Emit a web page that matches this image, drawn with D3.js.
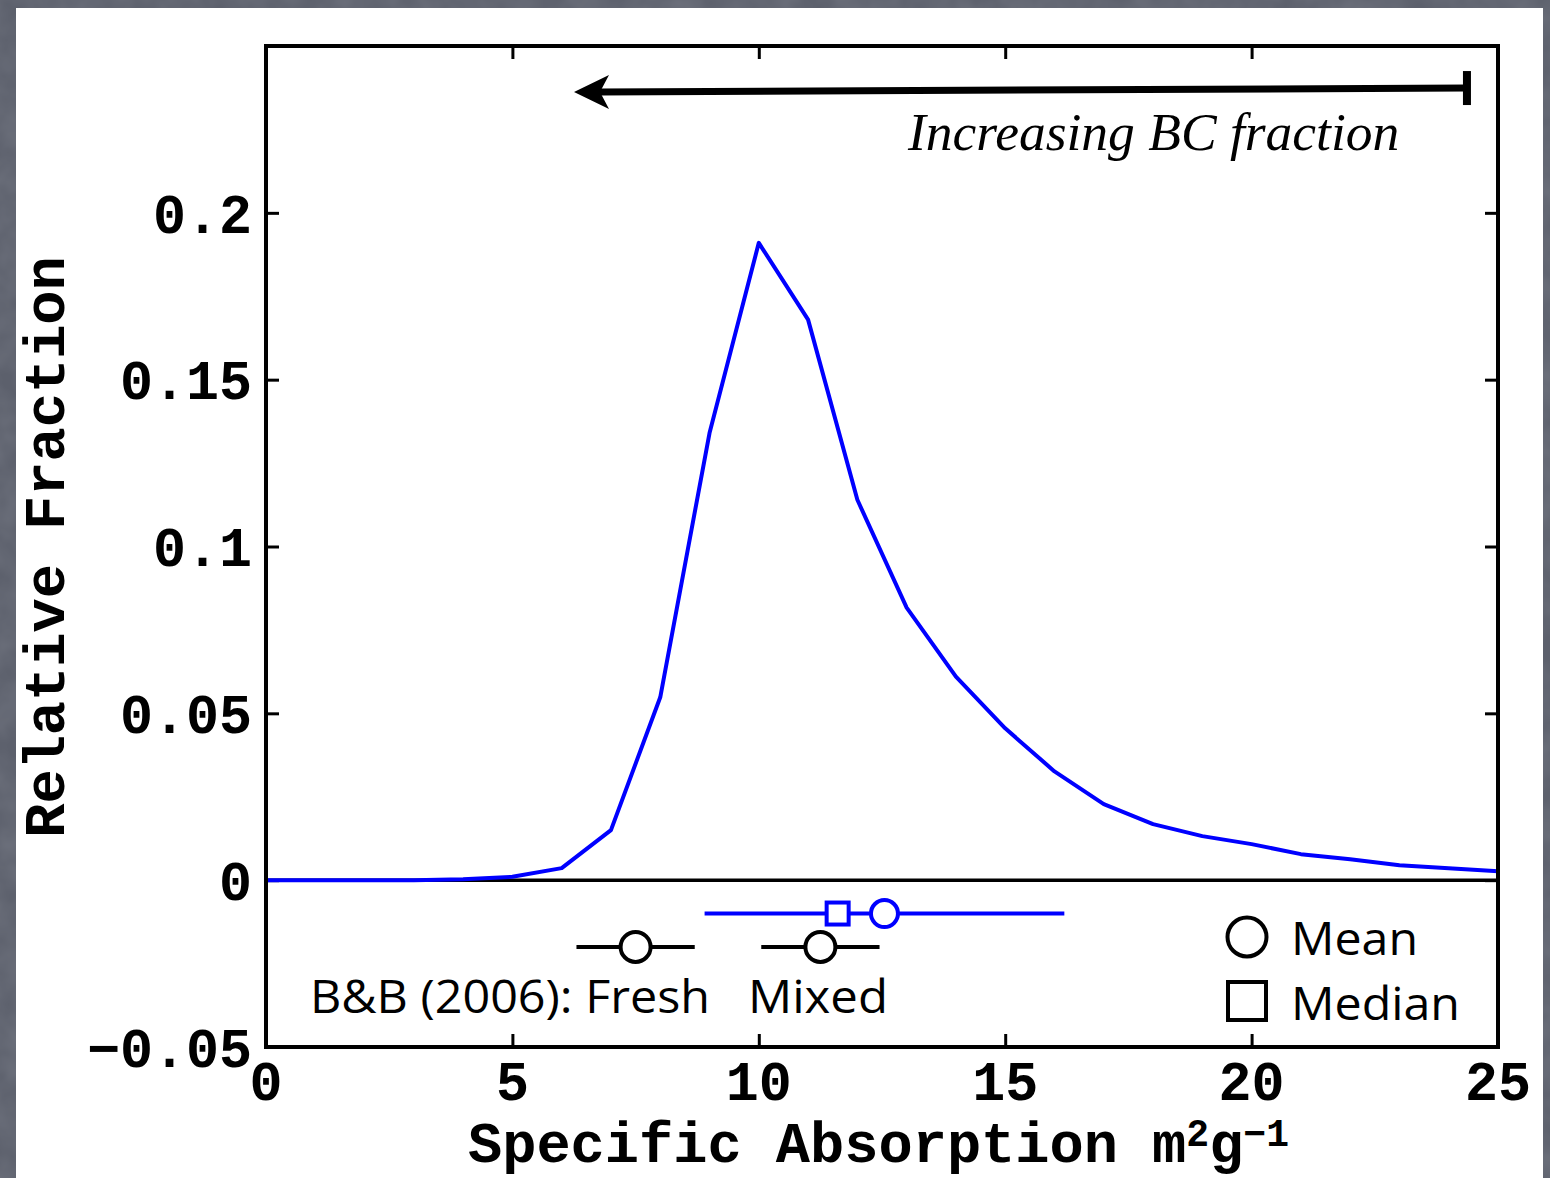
<!DOCTYPE html>
<html>
<head>
<meta charset="utf-8">
<script src="https://cdn.jsdelivr.net/npm/d3@7/dist/d3.min.js"></script>
<style>
  html, body { margin: 0; padding: 0; background: #5c606c; }
  svg { display: block; }
</style>
</head>
<body>
<svg id="chart" width="1550" height="1178"></svg>
<script>
// Distribution of specific absorption (m^2 g^-1)
const absorption = [0,1,2,3,4,5,6,7,8,9,10,11,12,13,14,15,16,17,18,19,20,21,22,23,24,25];
const fraction = [0,0,0,0,0.0003,0.001,0.0036,0.015,0.0548,0.134,0.191,0.168,0.114,0.0817,0.061,0.0455,0.0326,0.0228,0.0168,0.0132,0.0108,0.0078,0.0063,0.0045,0.0036,0.0027];

// Summary statistics: range, mean and median
const thisStudy = { low: 8.9, high: 16.2, mean: 12.55, median: 11.6, y: -0.01 };
const bbLabels = ["Fresh", "Mixed"];
const bbLow = [6.3, 10.05];
const bbHigh = [8.7, 12.45];
const bbMean = [7.5, 11.25];
const bbY = -0.02;

const xTicks = [0, 5, 10, 15, 20, 25];
const yTicks = [-0.05, 0, 0.05, 0.1, 0.15, 0.2];
const yTickLabels = ["\u22120.05", "0", "0.05", "0.1", "0.15", "0.2"];

const svg = d3.select("#chart");

// lightly mottled slate backdrop
const defs = svg.append("defs");
const f = defs.append("filter").attr("id", "grain").attr("x", 0).attr("y", 0).attr("width", 1).attr("height", 1);
f.append("feTurbulence").attr("type", "fractalNoise").attr("baseFrequency", 0.03).attr("numOctaves", 3).attr("seed", 4).attr("result", "n");
f.append("feColorMatrix").attr("in", "n").attr("type", "matrix")
  .attr("values", "0 0 0 0 0.45  0 0 0 0 0.47  0 0 0 0 0.52  0 0 0 0.25 -0.05");
svg.append("rect").attr("width", 1550).attr("height", 1178).attr("fill", "#5c606c");
svg.append("rect").attr("width", 1550).attr("height", 1178).attr("filter", "url(#grain)");

// white slide area
svg.append("rect").attr("x", 16).attr("y", 8).attr("width", 1527).attr("height", 1170).attr("fill", "#ffffff");

const mLeft = 266, mRight = 1498, mTop = 46, mBottom = 1047;
const x = d3.scaleLinear().domain([0, 25]).range([mLeft, mRight]);
const y = d3.scaleLinear().domain([-0.05, 0.25]).range([mBottom, mTop]);

const mono = "'Liberation Mono', 'Courier New', monospace";
const hand = "'Open Sans', 'Noto Sans', sans-serif";
const tickLen = 13;

// ticks on all four sides, pointing inward
const styleTicks = s => {
  s.select(".domain").remove();
  s.selectAll("line").attr("stroke", "#000").attr("stroke-width", 3);
};
const g = svg.append("g");
g.append("g").attr("transform", `translate(0,${mBottom})`)
  .call(d3.axisBottom(x).tickValues(xTicks).tickSizeInner(-tickLen).tickSizeOuter(0).tickFormat(""))
  .call(styleTicks);
g.append("g").attr("transform", `translate(0,${mTop})`)
  .call(d3.axisTop(x).tickValues(xTicks).tickSizeInner(-tickLen).tickSizeOuter(0).tickFormat(""))
  .call(styleTicks);
g.append("g").attr("transform", `translate(${mLeft},0)`)
  .call(d3.axisLeft(y).tickValues(yTicks).tickSizeInner(-tickLen).tickSizeOuter(0).tickFormat(""))
  .call(styleTicks);
g.append("g").attr("transform", `translate(${mRight},0)`)
  .call(d3.axisRight(y).tickValues(yTicks).tickSizeInner(-tickLen).tickSizeOuter(0).tickFormat(""))
  .call(styleTicks);

// zero line
svg.append("line").attr("x1", x(0)).attr("x2", x(25)).attr("y1", y(0)).attr("y2", y(0))
  .attr("stroke", "#000").attr("stroke-width", 3.5);

// tick labels
svg.append("g").selectAll("text").data(xTicks).join("text")
  .attr("x", d => x(d)).attr("y", 1100)
  .attr("text-anchor", "middle")
  .attr("font-family", mono).attr("font-weight", "bold").attr("font-size", 55)
  .text(d => d);
svg.append("g").selectAll("text").data(yTicks).join("text")
  .attr("x", 252).attr("y", d => y(d)).attr("dy", "0.36em")
  .attr("text-anchor", "end")
  .attr("font-family", mono).attr("font-weight", "bold").attr("font-size", 55)
  .text((d, i) => yTickLabels[i]);

// axis titles
const xt = svg.append("text").attr("x", 468).attr("y", 1162)
  .attr("font-family", mono).attr("font-weight", "bold").attr("font-size", 57);
xt.append("tspan").text("Specific Absorption m");
xt.append("tspan").attr("dy", -16).attr("font-size", 38).text("2");
xt.append("tspan").attr("dy", 16).text("g");
xt.append("tspan").attr("dy", -16).attr("font-size", 38).text("\u22121");

svg.append("text").attr("transform", "translate(64,547) rotate(-90)")
  .attr("text-anchor", "middle")
  .attr("font-family", mono).attr("font-weight", "bold").attr("font-size", 57)
  .text("Relative Fraction");

// distribution curve
svg.append("path").datum(absorption.map((a, i) => [a, fraction[i]]))
  .attr("d", d3.line().x(d => x(d[0])).y(d => y(d[1])))
  .attr("fill", "none").attr("stroke", "#0000ff").attr("stroke-width", 4).attr("stroke-linejoin", "round");

// this study: range, median and mean
svg.append("line").attr("x1", x(thisStudy.low)).attr("x2", x(thisStudy.high))
  .attr("y1", y(thisStudy.y)).attr("y2", y(thisStudy.y)).attr("stroke", "#0000ff").attr("stroke-width", 4);
svg.append("rect").attr("x", x(thisStudy.median) - 11).attr("y", y(thisStudy.y) - 11)
  .attr("width", 22).attr("height", 22).attr("fill", "#fff").attr("stroke", "#0000ff").attr("stroke-width", 4);
svg.append("circle").attr("cx", x(thisStudy.mean)).attr("cy", y(thisStudy.y)).attr("r", 13.5)
  .attr("fill", "#fff").attr("stroke", "#0000ff").attr("stroke-width", 4);

// Bond & Bergstrom (2006) reference values
const bb = svg.append("g").selectAll("g").data(bbLabels).join("g");
bb.append("line").attr("x1", (d, i) => x(bbLow[i])).attr("x2", (d, i) => x(bbHigh[i]))
  .attr("y1", y(bbY)).attr("y2", y(bbY)).attr("stroke", "#000").attr("stroke-width", 4);
bb.append("circle").attr("cx", (d, i) => x(bbMean[i])).attr("cy", y(bbY)).attr("r", 15)
  .attr("fill", "#fff").attr("stroke", "#000").attr("stroke-width", 4);

const handText = (txt, xx, yy, w) => {
  const t = svg.append("text").attr("x", xx).attr("y", yy)
    .attr("font-family", hand).attr("font-size", 46).attr("fill", "#000").text(txt);
  if (w) t.attr("textLength", w).attr("lengthAdjust", "spacingAndGlyphs");
  return t;
};
handText("B&B (2006): Fresh", 310, 1013, 400);
handText("Mixed", 748, 1013, 140);

// legend
svg.append("circle").attr("cx", 1247).attr("cy", 937).attr("r", 19.5)
  .attr("fill", "none").attr("stroke", "#000").attr("stroke-width", 4);
handText("Mean", 1291, 955, 127);
svg.append("rect").attr("x", 1228).attr("y", 982).attr("width", 38).attr("height", 38)
  .attr("fill", "none").attr("stroke", "#000").attr("stroke-width", 4);
handText("Median", 1291, 1020, 169);

// plot frame
svg.append("rect").attr("x", mLeft).attr("y", mTop).attr("width", mRight - mLeft).attr("height", mBottom - mTop)
  .attr("fill", "none").attr("stroke", "#000").attr("stroke-width", 4);

// annotation arrow
const arrowStart = [24.37, 0.2374], arrowEnd = [6.25, 0.2362];
const ax0 = x(arrowStart[0]), ay0 = y(arrowStart[1]), ax1 = x(arrowEnd[0]), ay1 = y(arrowEnd[1]);
svg.append("line").attr("x1", ax0).attr("y1", ay0).attr("x2", ax1 + 26).attr("y2", ay1)
  .attr("stroke", "#000").attr("stroke-width", 7);
svg.append("line").attr("x1", ax0).attr("x2", ax0).attr("y1", ay0 - 17).attr("y2", ay0 + 17)
  .attr("stroke", "#000").attr("stroke-width", 8);
svg.append("path")
  .attr("d", `M${ax1},${ay1} L${ax1 + 35},${ay1 - 17} L${ax1 + 26},${ay1} L${ax1 + 35},${ay1 + 17} Z`)
  .attr("fill", "#000");

svg.append("text").attr("x", 908).attr("y", 150)
  .attr("font-family", "'Liberation Serif', 'Times New Roman', serif").attr("font-style", "italic")
  .attr("font-size", 53.5).text("Increasing BC fraction");
</script>
</body>
</html>
